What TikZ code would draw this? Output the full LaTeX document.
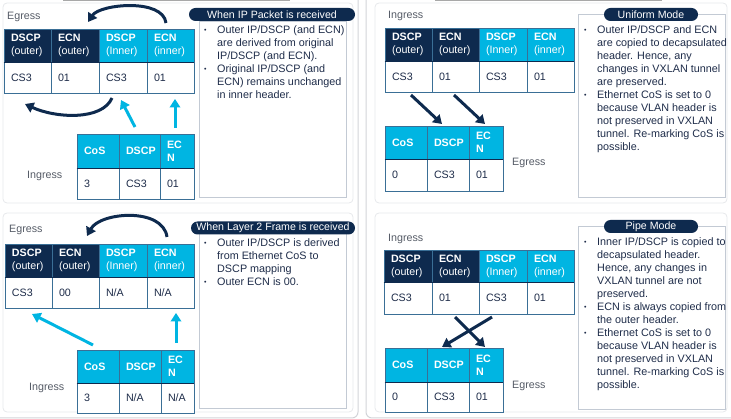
\documentclass[tikz,border=0pt]{standalone}
\usepackage{fontspec}
\setmainfont{Liberation Sans}
\usetikzlibrary{arrows.meta}
\definecolor{navy}{HTML}{0E2A4E}
\definecolor{cyanc}{HTML}{00B5E2}
\definecolor{cellline}{HTML}{3A6F96}
\definecolor{txtc}{HTML}{1F2D4A}
\definecolor{lblc}{HTML}{555B66}
\definecolor{boxline}{HTML}{C3CAD4}
\definecolor{panelc}{HTML}{E6E8EB}
\definecolor{framec}{HTML}{D2D4D8}
\definecolor{toplinec}{HTML}{A8A8A8}
\newcommand\tcell[7]{%
  \pgfmathsetmacro\cw{#4-#2}\pgfmathsetmacro\ch{#5-#3}\pgfmathsetmacro\tw{#4-#2-14}%
  \node[cellbase,#6,minimum width=\cw pt,minimum height=\ch pt,text width=\tw pt] (#1) at ({(#2+#4)/2},{(#3+#5)/2}) {#7};}
\newcommand\bl{\makebox[13pt][l]{\raisebox{0.6pt}{\fontsize{7}{7}\selectfont\textbullet}}}
\newcommand\ct{\hspace*{13pt}}
\tikzset{
  cellbase/.style={rectangle,draw=cellline,line width=0.7pt,inner xsep=7pt,inner ysep=0pt,align=left,font=\fontsize{10.7}{13}\selectfont},
  hdark/.style={fill=navy,text=white},
  hcyan/.style={fill=cyanc,text=white},
  dcell/.style={fill=white,text=txtc},
  hline/.style={draw=navy,line width=1.6pt},
  navyarrow/.style={draw=navy,line width=3pt,-{Triangle[length=8.5pt,width=10.5pt]}},
  cyanarrow/.style={draw=cyanc,line width=3pt,-{Triangle[length=8.5pt,width=10.5pt]}},
  pill/.style={rectangle,rounded corners=6.5pt,fill=navy,text=white,inner sep=0pt,minimum height=13pt,font=\fontsize{10.6}{12}\selectfont},
  infobox/.style={draw=boxline,line width=0.8pt,fill=white},
  bullets/.style={anchor=north west,inner sep=0pt,align=left,text=txtc,font=\fontsize{10.8}{13}\selectfont},
  lbl/.style={anchor=west,inner sep=0pt,text=lblc,font=\fontsize{10.7}{12}\selectfont},
  panel/.style={draw=panelc,line width=0.8pt,rounded corners=4pt},
  frame/.style={draw=framec,line width=1pt,rounded corners=6pt},
}
\begin{document}
\begin{tikzpicture}[x=1pt,y=-1pt]
\useasboundingbox (0,0) rectangle (731,419);
% frames
\draw[frame] (-10,-10) rectangle (358,418);
\draw[frame] (366,-10) rectangle (741,418);
\draw[panel] (3,3) rectangle (353,203);
\draw[panel] (3,213) rectangle (353,412);
\draw[panel] (375,3) rectangle (727,203);
\draw[panel] (375,213) rectangle (727,412);
\draw[toplinec,line width=1.5pt] (63,0.5) -- (290,0.5);
\draw[toplinec,line width=1.5pt] (435,0.5) -- (662,0.5);

%%%%%%%%%%%% Top-left
\node[lbl] (tlEg) at (7,17) {Egress};
\tcell{a1}{4}{29}{51}{62}{hdark}{\textbf{DSCP}\\(outer)}
\tcell{a2}{51}{29}{99}{62}{hdark}{\textbf{ECN}\\(outer)}
\tcell{a3}{99}{29}{147}{62}{hcyan}{\textbf{DSCP}\\(Inner)}
\tcell{a4}{147}{29}{194}{62}{hcyan}{\textbf{ECN}\\(inner)}
\tcell{a5}{4}{62}{51}{93}{dcell}{CS3}
\tcell{a6}{51}{62}{99}{93}{dcell}{01}
\tcell{a7}{99}{62}{147}{93}{dcell}{CS3}
\tcell{a8}{147}{62}{194}{93}{dcell}{01}
\draw[hline] (a1.south west) -- (a4.south east);
\node[lbl] (tlIn) at (27,176) {Ingress};
\tcell{b1}{77}{134}{119}{168}{hcyan}{\textbf{CoS}}
\tcell{b2}{119}{134}{160}{168}{hcyan}{\textbf{DSCP}}
\tcell{b3}{160}{134}{194}{168}{hcyan}{\textbf{EC}\\\textbf{N}}
\tcell{b4}{77}{168}{119}{199}{dcell}{3}
\tcell{b5}{119}{168}{160}{199}{dcell}{CS3}
\tcell{b6}{160}{168}{194}{199}{dcell}{01}
\draw[hline] (b1.south west) -- (b3.south east);
\coordinate (k1s) at (166,23); \coordinate (k1e) at (88,22);
\draw[navyarrow] (k1s) .. controls (163,-2) and (100,4) .. (k1e);
\coordinate (k2s) at (112,98); \coordinate (k2e) at (25,104);
\draw[navyarrow] (k2s) .. controls (102,121) and (55,118) .. (k2e);
\coordinate (k3s) at (135,127); \coordinate (k3e) at (121,100);
\draw[cyanarrow] (k3s) -- (k3e);
\coordinate (k4s) at (175,128); \coordinate (k4e) at (175,99);
\draw[cyanarrow] (k4s) -- (k4e);
\draw[infobox] (199,21) rectangle (346,197);
\node[pill,minimum width=166pt] (p1) at (272,14.5) {When IP Packet is received};
\node[bullets] (t1) at (204,25) {\bl Outer IP/DSCP (and ECN)\\\ct are derived from original\\\ct IP/DSCP (and ECN).\\\bl Original IP/DSCP (and\\\ct ECN) remains unchanged\\\ct in inner header.};

%%%%%%%%%%%% Top-right
\node[lbl] (trIn) at (388,16) {Ingress};
\tcell{c1}{385}{28}{432}{61}{hdark}{\textbf{DSCP}\\(outer)}
\tcell{c2}{432}{28}{479}{61}{hdark}{\textbf{ECN}\\(outer)}
\tcell{c3}{479}{28}{527}{61}{hcyan}{\textbf{DSCP}\\(Inner)}
\tcell{c4}{527}{28}{574}{61}{hcyan}{\textbf{ECN}\\(inner)}
\tcell{c5}{385}{61}{432}{92}{dcell}{CS3}
\tcell{c6}{432}{61}{479}{92}{dcell}{01}
\tcell{c7}{479}{61}{527}{92}{dcell}{CS3}
\tcell{c8}{527}{61}{574}{92}{dcell}{01}
\draw[hline] (c1.south west) -- (c4.south east);
\node[lbl] (trEg) at (512,163) {Egress};
\tcell{d1}{385}{126}{427}{159}{hcyan}{\textbf{CoS}}
\tcell{d2}{427}{126}{469}{159}{hcyan}{\textbf{DSCP}}
\tcell{d3}{469}{126}{503}{159}{hcyan}{\textbf{EC}\\\textbf{N}}
\tcell{d4}{385}{159}{427}{191}{dcell}{0}
\tcell{d5}{427}{159}{469}{191}{dcell}{CS3}
\tcell{d6}{469}{159}{503}{191}{dcell}{01}
\draw[hline] (d1.south west) -- (d3.south east);
\coordinate (m1s) at (411,95); \coordinate (m1e) at (442,124);
\draw[navyarrow] (m1s) -- (m1e);
\coordinate (m2s) at (454,95); \coordinate (m2e) at (485,124);
\draw[navyarrow] (m2s) -- (m2e);
\draw[infobox] (578,14) rectangle (725,197);
\node[pill,minimum width=94pt] (p2) at (651,14.5) {Uniform Mode};
\node[bullets] (t2) at (584,25) {\bl Outer IP/DSCP and ECN\\\ct are copied to decapsulated\\\ct header. Hence, any\\\ct changes in VXLAN tunnel\\\ct are preserved.\\\bl Ethernet CoS is set to 0\\\ct because VLAN header is\\\ct not preserved in VXLAN\\\ct tunnel. Re-marking CoS is\\\ct possible.};

%%%%%%%%%%%% Bottom-left
\node[lbl] (blEg) at (9,230) {Egress};
\tcell{e1}{5}{244}{52}{277}{hdark}{\textbf{DSCP}\\(outer)}
\tcell{e2}{52}{244}{99}{277}{hdark}{\textbf{ECN}\\(outer)}
\tcell{e3}{99}{244}{147}{277}{hcyan}{\textbf{DSCP}\\(Inner)}
\tcell{e4}{147}{244}{194}{277}{hcyan}{\textbf{ECN}\\(inner)}
\tcell{e5}{5}{277}{52}{308}{dcell}{CS3}
\tcell{e6}{52}{277}{99}{308}{dcell}{00}
\tcell{e7}{99}{277}{147}{308}{dcell}{N/A}
\tcell{e8}{147}{277}{194}{308}{dcell}{N/A}
\draw[hline] (e1.south west) -- (e4.south east);
\node[lbl] (blIn) at (29,388) {Ingress};
\tcell{f1}{77}{350}{119}{383}{hcyan}{\textbf{CoS}}
\tcell{f2}{119}{350}{161}{383}{hcyan}{\textbf{DSCP}}
\tcell{f3}{161}{350}{194}{383}{hcyan}{\textbf{EC}\\\textbf{N}}
\tcell{f4}{77}{383}{119}{413}{dcell}{3}
\tcell{f5}{119}{383}{161}{413}{dcell}{N/A}
\tcell{f6}{161}{383}{194}{413}{dcell}{N/A}
\draw[hline] (f1.south west) -- (f3.south east);
\coordinate (n1s) at (167,237); \coordinate (n1e) at (87,236);
\draw[navyarrow] (n1s) .. controls (163,207) and (100,212) .. (n1e);
\coordinate (n2s) at (93,345); \coordinate (n2e) at (32,314);
\draw[cyanarrow] (n2s) -- (n2e);
\coordinate (n3s) at (176,343); \coordinate (n3e) at (176,313);
\draw[cyanarrow] (n3s) -- (n3e);
\draw[infobox] (199,233) rectangle (346,408);
\node[pill,minimum width=164pt] (p3) at (273,228) {When Layer 2 Frame is received};
\node[bullets] (t3) at (204,238) {\bl Outer IP/DSCP is derived\\\ct from Ethernet CoS to\\\ct DSCP mapping\\\bl Outer ECN is 00.};

%%%%%%%%%%%% Bottom-right
\node[lbl] (brIn) at (388,239) {Ingress};
\tcell{g1}{384}{250}{432}{282}{hdark}{\textbf{DSCP}\\(outer)}
\tcell{g2}{432}{250}{479}{282}{hdark}{\textbf{ECN}\\(outer)}
\tcell{g3}{479}{250}{527}{282}{hcyan}{\textbf{DSCP}\\(Inner)}
\tcell{g4}{527}{250}{574}{282}{hcyan}{\textbf{ECN}\\(inner)}
\tcell{g5}{384}{282}{432}{314}{dcell}{CS3}
\tcell{g6}{432}{282}{479}{314}{dcell}{01}
\tcell{g7}{479}{282}{527}{314}{dcell}{CS3}
\tcell{g8}{527}{282}{574}{314}{dcell}{01}
\draw[hline] (g1.south west) -- (g4.south east);
\node[lbl] (brEg) at (512,386) {Egress};
\tcell{h1}{385}{348}{427}{382}{hcyan}{\textbf{CoS}}
\tcell{h2}{427}{348}{469}{382}{hcyan}{\textbf{DSCP}}
\tcell{h3}{469}{348}{503}{382}{hcyan}{\textbf{EC}\\\textbf{N}}
\tcell{h4}{385}{382}{427}{412}{dcell}{0}
\tcell{h5}{427}{382}{469}{412}{dcell}{CS3}
\tcell{h6}{469}{382}{503}{412}{dcell}{01}
\draw[hline] (h1.south west) -- (h3.south east);
\coordinate (q1s) at (492,317); \coordinate (q1e) at (442,347);
\draw[navyarrow] (q1s) -- (q1e);
\coordinate (q2s) at (455,317); \coordinate (q2e) at (485,347);
\draw[navyarrow] (q2s) -- (q2e);
\draw[infobox] (578,226) rectangle (725,409);
\node[pill,minimum width=94pt] (p4) at (651,226.5) {Pipe Mode};
\node[bullets] (t4) at (584,237.5) {\bl Inner IP/DSCP is copied to\\\ct decapsulated header.\\\ct Hence, any changes in\\\ct VXLAN tunnel are not\\\ct preserved.\\\bl ECN is always copied from\\\ct the outer header.\\\bl Ethernet CoS is set to 0\\\ct because VLAN header is\\\ct not preserved in VXLAN\\\ct tunnel. Re-marking CoS is\\\ct possible.};
\end{tikzpicture}
\end{document}
